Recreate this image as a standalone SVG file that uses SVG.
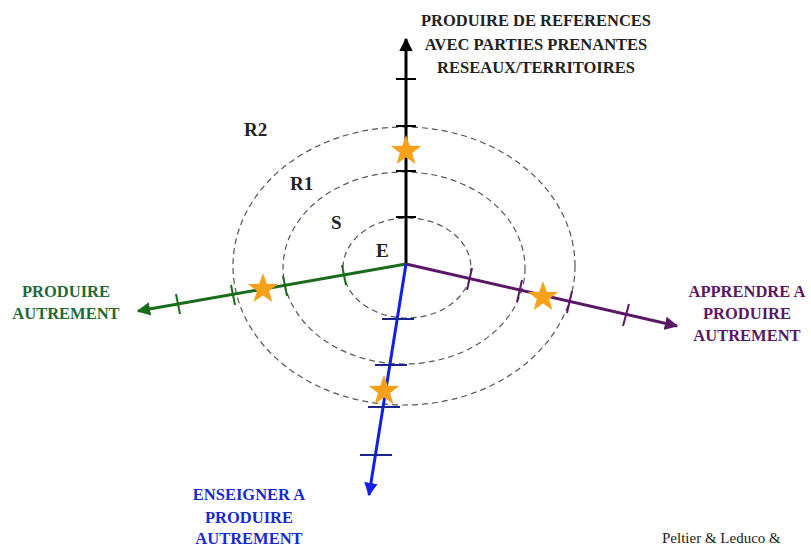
<svg xmlns="http://www.w3.org/2000/svg" width="811" height="547" viewBox="0 0 811 547">
<defs>
<style>
.lbl{font-family:"Liberation Serif",serif;font-weight:bold;font-size:16.5px;text-anchor:middle}
.zone{font-family:"Liberation Serif",serif;font-weight:bold;font-size:19px;fill:#222}
.ring{fill:none;stroke:#555;stroke-width:1.2;stroke-dasharray:6 4}
.star{fill:#f7a01a}
</style>
<marker id="ahK" viewBox="0 0 10 10" refX="9" refY="5" markerWidth="4.5" markerHeight="4.5" orient="auto" markerUnits="strokeWidth"><path d="M0,0 L10,5 L0,10 z" fill="#000"/></marker>
<marker id="ahG" viewBox="0 0 10 10" refX="9" refY="5" markerWidth="4.5" markerHeight="4.5" orient="auto" markerUnits="strokeWidth"><path d="M0,0 L10,5 L0,10 z" fill="#1a6b1a"/></marker>
<marker id="ahP" viewBox="0 0 10 10" refX="9" refY="5" markerWidth="4.5" markerHeight="4.5" orient="auto" markerUnits="strokeWidth"><path d="M0,0 L10,5 L0,10 z" fill="#5a1766"/></marker>
<marker id="ahB" viewBox="0 0 10 10" refX="9" refY="5" markerWidth="4.5" markerHeight="4.5" orient="auto" markerUnits="strokeWidth"><path d="M0,0 L10,5 L0,10 z" fill="#1020e8"/></marker>
<polygon id="st" points="0,-16 3.8,-5.2 15.2,-4.9 6.1,2 9.4,12.9 0,6.4 -9.4,12.9 -6.1,2 -15.2,-4.9 -3.8,-5.2"/>
</defs>
<rect width="811" height="547" fill="#fff"/>
<g id="rings">
<ellipse class="ring" cx="407" cy="268" rx="64" ry="50"/>
<ellipse class="ring" cx="404" cy="268" rx="121" ry="96"/>
<ellipse class="ring" cx="404" cy="266" rx="171" ry="139"/>
</g>
<g id="connectors">
<g id="axis-up" stroke="#000" stroke-width="3">
<line x1="406" y1="264" x2="406" y2="39" marker-end="url(#ahK)"/>
<g stroke-width="2"><line x1="396" y1="79" x2="416" y2="79"/><line x1="396" y1="126" x2="416" y2="126"/><line x1="396" y1="171" x2="416" y2="171"/><line x1="396" y1="217" x2="416" y2="217"/></g>
</g>
<g id="axis-left" stroke="#1a6b1a" stroke-width="3">
<line x1="406" y1="264" x2="138" y2="311" marker-end="url(#ahG)"/>
<g stroke-width="2"><line x1="342" y1="265" x2="346" y2="285"/><line x1="283" y1="276" x2="287" y2="296"/><line x1="231" y1="285" x2="235" y2="305"/><line x1="176" y1="294" x2="180" y2="314"/></g>
</g>
<g id="axis-right" stroke="#5a1766" stroke-width="3">
<line x1="406" y1="264" x2="677" y2="326" marker-end="url(#ahP)"/>
<g stroke-width="2"><line x1="472" y1="268" x2="467" y2="290"/><line x1="522" y1="280" x2="517" y2="302"/><line x1="572" y1="291" x2="567" y2="313"/><line x1="629" y1="304" x2="623" y2="326"/></g>
</g>
<g id="axis-down" stroke="#1020e8" stroke-width="3">
<line x1="406" y1="264" x2="369" y2="495" marker-end="url(#ahB)"/>
<g stroke="#1a2590" stroke-width="2"><line x1="382" y1="319" x2="414" y2="319"/><line x1="375" y1="365" x2="407" y2="365"/><line x1="368" y1="407" x2="400" y2="407"/><line x1="360" y1="455" x2="392" y2="455"/></g>
</g>
</g>
<g id="stars" class="star">
<use href="#st" x="406" y="151"/>
<use href="#st" x="263" y="289"/>
<use href="#st" x="543" y="297"/>
<use href="#st" x="384" y="391"/>
</g>
<g id="zones">
<text class="zone" x="244" y="136">R2</text>
<text class="zone" x="290" y="190">R1</text>
<text class="zone" x="331" y="229">S</text>
<text class="zone" x="376" y="257">E</text>
</g>
<g id="label-up" class="lbl" fill="#222">
<text x="536" y="26">PRODUIRE DE REFERENCES</text>
<text x="536" y="50">AVEC PARTIES PRENANTES</text>
<text x="536" y="73">RESEAUX/TERRITOIRES</text>
</g>
<g id="label-left" class="lbl" fill="#1f6a35">
<text x="66" y="297">PRODUIRE</text>
<text x="66" y="319">AUTREMENT</text>
</g>
<g id="label-right" class="lbl" fill="#5a1766">
<text x="747" y="297">APPRENDRE A</text>
<text x="747" y="319">PRODUIRE</text>
<text x="747" y="341">AUTREMENT</text>
</g>
<g id="label-down" class="lbl" fill="#1a2ad0">
<text x="249" y="500">ENSEIGNER A</text>
<text x="249" y="523">PRODUIRE</text>
<text x="249" y="544">AUTREMENT</text>
</g>
<text x="662" y="543" font-family="Liberation Serif,serif" font-size="15" fill="#222">Peltier &amp; Leduco &amp;</text>
</svg>
